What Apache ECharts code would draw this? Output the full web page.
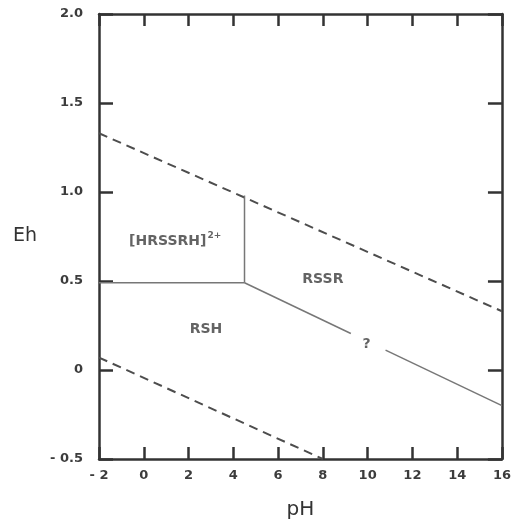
<!DOCTYPE html>
<html><head><meta charset="utf-8">
<script src="https://cdn.jsdelivr.net/npm/echarts@6/dist/echarts.min.js"></script>
<style>html,body{margin:0;padding:0;background:#fff}#c{width:514px;height:525px}</style>
</head><body><div id="c"></div>
<script>
// Data (pH, Eh)
const upperDashed = [[-2, 1.33], [16, 0.33]];
const lowerDashed = [[-2, 0.07], [8, -0.5]];
const horizontalBoundary = [[-2, 0.49], [4.5, 0.49]];
const verticalBoundary = [[4.5, 0.49], [4.5, 0.98]];
const diagonalPart1 = [[4.5, 0.49], [9.25, 0.205]];
const diagonalPart2 = [[10.8, 0.112], [16, -0.2]];
const regionLabels = [
  [1.4, 0.725, 'HRSSRH'],
  [8.0, 0.51, 'RSSR'],
  [2.78, 0.23, 'RSH'],
  [9.95, 0.146, '?']
];
const xTicks = [-2, 0, 2, 4, 6, 8, 10, 12, 14, 16];
const yTicks = [-0.5, 0, 0.5, 1.0, 1.5, 2.0];

const FONT = 'DejaVu Sans';
const axisColor = '#333';
const textColor = '#3c3c3c';

function xLabel(v) { return v < 0 ? '- ' + Math.abs(v) : String(v); }
function yLabel(v) {
  if (v === 0) return '0';
  if (v < 0) return '- ' + Math.abs(v).toFixed(1);
  return v.toFixed(1);
}

const chart = echarts.init(document.getElementById('c'), null, {renderer: 'canvas'});

const baseAxisLine = {show: true, onZero: false, lineStyle: {color: axisColor, width: 2.5}};
const baseTick = {show: true, inside: true, length: 12, lineStyle: {color: axisColor, width: 2.5}};

function lineSeries(data, dashed) {
  return {
    type: 'line', data: data, symbol: 'none', silent: true,
    lineStyle: dashed
      ? {color: '#4d4d4d', width: 2, type: [9, 6]}
      : {color: '#777', width: 1.5},
    z: 3
  };
}

chart.setOption({
  animation: false,
  backgroundColor: '#fff',
  grid: {left: 99, top: 14, right: 8, bottom: 62, containLabel: false},
  xAxis: [
    {
      type: 'value', min: xTicks[0], max: xTicks[xTicks.length - 1], interval: 2,
      position: 'bottom',
      axisLine: baseAxisLine, axisTick: baseTick, splitLine: {show: false},
      axisLabel: {formatter: xLabel, color: textColor, fontFamily: FONT, fontWeight: 'bold', fontSize: 13, margin: 10},
      name: 'pH', nameLocation: 'middle', nameGap: 51,
      nameTextStyle: {color: '#333', fontFamily: FONT, fontSize: 20, verticalAlign: 'middle', align: 'center'}
    },
    {
      type: 'value', min: xTicks[0], max: xTicks[xTicks.length - 1], interval: 2,
      position: 'top',
      axisLine: baseAxisLine, axisTick: baseTick, splitLine: {show: false},
      axisLabel: {show: false}
    }
  ],
  yAxis: [
    {
      type: 'value', min: yTicks[0], max: yTicks[yTicks.length - 1], interval: 0.5,
      position: 'left',
      axisLine: baseAxisLine, axisTick: Object.assign({}, baseTick, {length: 14}), splitLine: {show: false},
      axisLabel: {formatter: yLabel, color: textColor, fontFamily: FONT, fontWeight: 'bold', fontSize: 13, margin: 16},
      name: 'Eh', nameLocation: 'middle', nameGap: 74, nameRotate: 0,
      nameTextStyle: {color: '#333', fontFamily: FONT, fontSize: 19, align: 'center', verticalAlign: 'middle'}
    },
    {
      type: 'value', min: yTicks[0], max: yTicks[yTicks.length - 1], interval: 0.5,
      position: 'right',
      axisLine: baseAxisLine, axisTick: Object.assign({}, baseTick, {length: 14}), splitLine: {show: false},
      axisLabel: {show: false}
    }
  ],
  series: [
    lineSeries(upperDashed, true),
    lineSeries(lowerDashed, true),
    lineSeries(horizontalBoundary, false),
    lineSeries(verticalBoundary, false),
    lineSeries(diagonalPart1, false),
    lineSeries(diagonalPart2, false),
    {
      type: 'scatter', symbolSize: 0, silent: true, z: 5,
      data: regionLabels.map(r => ({value: [r[0], r[1]], name: r[2]})),
      label: {
        show: true, position: 'inside',
        formatter: function (p) {
          if (p.name === 'HRSSRH') return '{m|[HRSSRH]}{s|2+}';
          return '{m|' + p.name + '}';
        },
        rich: {
          m: {fontFamily: FONT, fontWeight: 'bold', fontSize: 14, color: textColor},
          s: {fontFamily: FONT, fontWeight: 'bold', fontSize: 9, color: textColor, padding: [0, 0, 10, 1]}
        }
      }
    }
  ]
});
</script>
</body></html>
